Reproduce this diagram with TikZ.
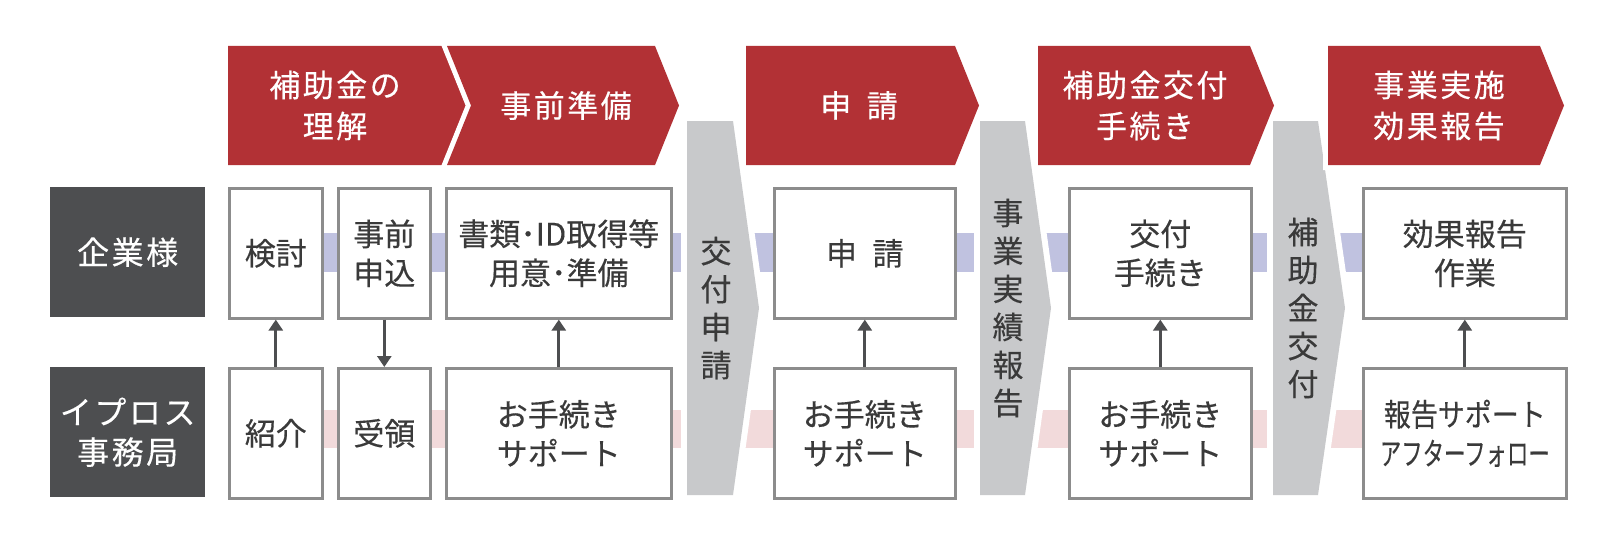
\documentclass[tikz,border=0pt]{standalone}
\usepackage{graphicx}
\usepackage{fontspec}
\setmainfont{Noto Sans CJK JP}[FakeBold=0.35]
\newfontfamily\bnrfont{Noto Sans CJK JP}[LetterSpace=8,FakeBold=0.35]
\usetikzlibrary{arrows.meta}
\definecolor{bannerred}{HTML}{B23135}
\definecolor{darkbox}{HTML}{4D4E50}
\definecolor{colgray}{HTML}{C8C9CB}
\definecolor{boxline}{HTML}{8C8C8C}
\definecolor{lav}{HTML}{C0C2E0}
\definecolor{pinkband}{HTML}{F2DADB}
\definecolor{txt}{HTML}{3A3A3A}
\begin{document}
\begin{tikzpicture}[x=1pt,y=-1pt,
  wbox/.style={draw=boxline,line width=2.6pt,fill=white,inner sep=0pt,anchor=north west,
    text=txt,align=center,font={\fontsize{31}{39}\selectfont}},
  lbox/.style={fill=darkbox,inner sep=0pt,anchor=north west,text=white,align=center,
    font={\bnrfont\fontsize{32}{40}\selectfont}},
  halo/.style={draw=white,fill=white,line width=12pt,line join=round},
  halob/.style={draw=white,fill=white,line width=10pt,line join=miter},
  bannertxt/.style={text=white,align=center,inner sep=0pt,font={\bnrfont\fontsize{31}{41}\selectfont}},
  vtxt/.style={text=txt,align=center,inner sep=0pt,font={\fontsize{31}{38}\selectfont}},
  conn/.style={draw=darkbox,line width=3pt,-{Triangle[length=11pt,width=14pt]}}
]
\useasboundingbox (0,0) rectangle (1614,543);
\fill[white] (0,0) rectangle (1614,543);

% bands
\fill[lav] (228,233) rectangle (1565,272);
\fill[pinkband] (228,410) rectangle (1565,448);

% row labels
\node[lbox,minimum width=155pt,minimum height=130pt] (kigyo) at (50,187) {企業様};
\node[lbox,minimum width=155pt,minimum height=130pt] (ipros) at (50,367) {イプロス\\事務局};

% top row boxes
\node[wbox,minimum width=93pt,minimum height=130pt] (kento) at (228,187) {検討};
\node[wbox,minimum width=92pt,minimum height=130pt] (jizen) at (337,187) {事前\\申込};
\node[wbox,minimum width=225pt,minimum height=130pt] (shorui) at (445,187) {書類･ID取得等\\用意･準備};
\node[wbox,minimum width=181pt,minimum height=130pt] (shinsei) at (773,187) {申\hspace{0.5em}請};
\node[wbox,minimum width=182pt,minimum height=130pt] (kofu) at (1068,187) {交付\\手続き};
\node[wbox,minimum width=203pt,minimum height=130pt] (koka) at (1362,187) {効果報告\\作業};

% bottom row boxes
\node[wbox,minimum width=93pt,minimum height=130pt] (shokai) at (228,367) {紹介};
\node[wbox,minimum width=92pt,minimum height=130pt] (juryo) at (337,367) {受領};
\node[wbox,minimum width=225pt,minimum height=130pt] (sup1) at (445,367) {お手続き\\サポート};
\node[wbox,minimum width=181pt,minimum height=130pt] (sup2) at (773,367) {お手続き\\サポート};
\node[wbox,minimum width=182pt,minimum height=130pt] (sup3) at (1068,367) {お手続き\\サポート};
\node[wbox,minimum width=203pt,minimum height=130pt] (sup4) at (1362,367) {\scalebox{0.87}[1]{報告サポート}\\\scalebox{0.69}[1]{アフターフォロー}};

% connectors
\draw[conn] (shokai.north) -- (kento.south);
\draw[conn] (jizen.south) -- (juryo.north);
\draw[conn] (sup1.north) -- (shorui.south);
\draw[conn] (sup2.north) -- (shinsei.south);
\draw[conn] (sup3.north) -- (kofu.south);
\draw[conn] (sup4.north) -- (koka.south);

% gray milestone columns
\path[halo] (687,121) -- (733,121) -- (759,308) -- (733,495) -- (687,495) -- cycle;
\fill[colgray] (687,121) -- (733,121) -- (759,308) -- (733,495) -- (687,495) -- cycle;
\node[vtxt] (m1) at (716,308) {交\\付\\申\\請};

\path[halo] (980,121) -- (1025,121) -- (1051,308) -- (1025,495) -- (980,495) -- cycle;
\fill[colgray] (980,121) -- (1025,121) -- (1051,308) -- (1025,495) -- (980,495) -- cycle;
\node[vtxt] (m2) at (1008,308) {事\\業\\実\\績\\報\\告};

\path[halo] (1273,121) -- (1318,121) -- (1345,308) -- (1318,495) -- (1273,495) -- cycle;
\fill[colgray] (1273,121) -- (1318,121) -- (1345,308) -- (1318,495) -- (1273,495) -- cycle;
\node[vtxt] (m3) at (1303,308) {補\\助\\金\\交\\付};

% red phase banners
\path[halob] (228,46) -- (442,46) -- (466,105.5) -- (442,165) -- (228,165) -- cycle;
\fill[bannerred] (228,46) -- (442,46) -- (466,105.5) -- (442,165) -- (228,165) -- cycle;
\node[bannertxt] (p1) at (335,105.5) {補助金の\\理解};

\path[halob] (447,46) -- (655,46) -- (679,105.5) -- (655,165) -- (447,165) -- (471,105.5) -- cycle;
\fill[bannerred] (447,46) -- (655,46) -- (679,105.5) -- (655,165) -- (447,165) -- (471,105.5) -- cycle;
\node[bannertxt] (p2) at (566,105.5) {事前準備};

\path[halob] (746,46) -- (955,46) -- (979,105.5) -- (955,165) -- (746,165) -- cycle;
\fill[bannerred] (746,46) -- (955,46) -- (979,105.5) -- (955,165) -- (746,165) -- cycle;
\node[bannertxt] (p3) at (859,105.5) {申\hspace{0.5em}請};

\path[halob] (1038,46) -- (1250,46) -- (1274,105.5) -- (1250,165) -- (1038,165) -- cycle;
\fill[bannerred] (1038,46) -- (1250,46) -- (1274,105.5) -- (1250,165) -- (1038,165) -- cycle;
\node[bannertxt] (p4) at (1145,105.5) {補助金交付\\手続き};

\path[halob] (1328,46) -- (1540,46) -- (1564,105.5) -- (1540,165) -- (1328,165) -- cycle;
\fill[bannerred] (1328,46) -- (1540,46) -- (1564,105.5) -- (1540,165) -- (1328,165) -- cycle;
\node[bannertxt] (p5) at (1439,105.5) {事業実施\\効果報告};
\end{tikzpicture}
\end{document}
